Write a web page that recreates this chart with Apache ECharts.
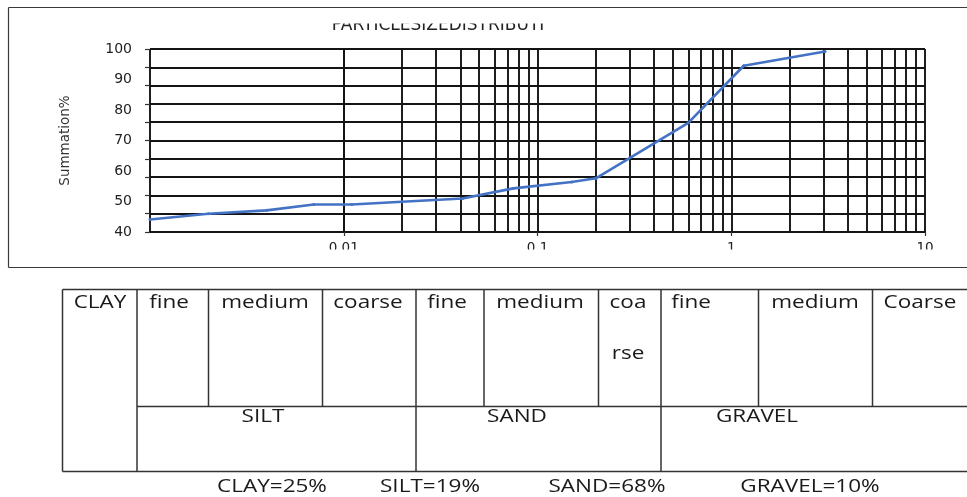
<!DOCTYPE html>
<html>
<head>
<meta charset="utf-8">
<script src="https://cdn.jsdelivr.net/npm/echarts@6/dist/echarts.min.js"></script>
<style>
  html, body { margin: 0; padding: 0; background: #ffffff; }
  #chart { width: 967px; height: 497px; }
</style>
</head>
<body>
<div id="chart"></div>
<script>
// Grain size (mm) and cumulative percentage passing
const grainSize = [0.001, 0.002, 0.004, 0.007, 0.011, 0.02, 0.041, 0.075, 0.15, 0.2, 0.6, 1.16, 3.05];
const percentPassing = [44.1, 46.0, 47.1, 49.0, 49.0, 49.9, 51.0, 54.3, 56.4, 57.6, 75.8, 94.5, 99.2];

// Axis ticks
const xDecades = [0.001, 0.01, 0.1, 1, 10];
const yTicks = [40, 50, 60, 70, 80, 90, 100];
const gridRowStep = 6;

// Soil classification table
const classNames = ['CLAY', 'SILT', 'SAND', 'GRAVEL'];
const classPercent = [25, 19, 68, 10];
const subClasses = ['fine', 'medium', 'coarse', 'fine', 'medium', 'coa\nrse', 'fine', 'medium', 'Coarse'];

const titleText = 'PARTICLESIZEDISTRIBUTI';
const yName = 'Summation%';

// intermediate log gridlines: 2..9 within each decade
const minorGrid = [];
xDecades.slice(0, -1).forEach(d => {
  for (let m = 2; m <= 9; m++) minorGrid.push(+(d * m).toPrecision(3));
});

const gridColor = '#141414';
const gridWidth = 1.9;

// ---- table layout ----
const tTop = 289.5, tMid = 406.5, tBot = 471.5, tLeft = 62.5, tRight = 967;
const fullCols = [62.5, 137, 416, 661];
const upperCols = [208.5, 322.5, 484, 598.5, 758.5, 872.5];
const subCenters = [169, 265, 368, 447, 540, 628, 691, 815, 920];
const classCellPos = [[100, 302.5], [263, 417], [517, 417], [757, 417]];
const summaryX = [272, 430, 607, 810];
const summaryY = 487;

const tableFont = '18px "Open Sans"';
const textColor = '#1a1a1a';
const stretch = 1.25;

function line(x1, y1, x2, y2, color, w) {
  return {
    type: 'line', z: 50, silent: true,
    shape: { x1, y1, x2, y2 },
    style: { stroke: color, lineWidth: w }
  };
}
function label(text, x, y, extra) {
  return Object.assign({
    type: 'text', z: 60, silent: true, x, y, scaleX: stretch,
    style: {
      text, fill: textColor, font: tableFont,
      align: 'center', verticalAlign: 'middle',
      textAlign: 'center', textVerticalAlign: 'middle'
    }
  }, extra || {});
}

const graphics = [];
// frame around the chart area
graphics.push(line(8.5, 7.5, 967, 7.5, '#3a3a3a', 1.2));
graphics.push(line(8.5, 7.5, 8.5, 267.5, '#3a3a3a', 1.2));
graphics.push(line(8.5, 267.5, 967, 267.5, '#3a3a3a', 1.2));

// title (upper part of the glyphs hidden by a white band)
graphics.push({
  type: 'text', z: 40, silent: true, x: 438, y: 25.5,
  style: {
    text: titleText, fill: '#222', font: '17px "DejaVu Sans"',
    align: 'center', verticalAlign: 'middle', textAlign: 'center', textVerticalAlign: 'middle'
  }
});
graphics.push({ type: 'rect', z: 45, silent: true, shape: { x: 300, y: 9, width: 290, height: 14.5 }, style: { fill: '#ffffff' } });
// lower band under the x tick labels
graphics.push({ type: 'rect', z: 45, silent: true, shape: { x: 300, y: 249.5, width: 667, height: 16.5 }, style: { fill: '#ffffff' } });

// table grid
graphics.push(line(tLeft, tTop, tRight, tTop, '#333', 1.5));
graphics.push(line(tLeft, tBot, tRight, tBot, '#333', 1.5));
graphics.push(line(fullCols[1], tMid, tRight, tMid, '#333', 1.5));
fullCols.forEach(x => graphics.push(line(x, tTop, x, tBot, '#333', 1.5)));
upperCols.forEach(x => graphics.push(line(x, tTop, x, tMid, '#333', 1.5)));

// table text
subClasses.forEach((s, i) => {
  if (s.indexOf('\n') >= 0) {
    // narrow column: the word wraps onto a second line
    graphics.push(label(s, subCenters[i], 277.5, {
      style: {
        text: s, fill: textColor, font: tableFont, lineHeight: 51,
        align: 'center', verticalAlign: 'top', textAlign: 'center', textVerticalAlign: 'top'
      }
    }));
  } else {
    graphics.push(label(s, subCenters[i], 302.5));
  }
});
classNames.forEach((n, i) => graphics.push(label(n, classCellPos[i][0], classCellPos[i][1])));
classNames.forEach((n, i) => graphics.push(label(n + '=' + classPercent[i] + '%', summaryX[i], summaryY)));

const chart = echarts.init(document.getElementById('chart'), null, { renderer: 'canvas' });
chart.setOption({
  animation: false,
  backgroundColor: '#ffffff',
  grid: { left: 150, right: 42, top: 49, bottom: 265, containLabel: false },
  xAxis: {
    type: 'log', logBase: 10,
    min: xDecades[0], max: xDecades[xDecades.length - 1],
    axisLine: { show: true, lineStyle: { color: gridColor, width: gridWidth } },
    axisTick: { show: true, length: 4, lineStyle: { color: '#333', width: 1.2 } },
    axisLabel: {
      showMinLabel: false, margin: 9,
      color: '#222', fontFamily: 'DejaVu Sans', fontSize: 13.5,
      formatter: v => String(+v.toPrecision(3))
    },
    splitLine: { show: true, lineStyle: { color: gridColor, width: gridWidth } }
  },
  yAxis: [
    {
      type: 'value', position: 'left',
      min: yTicks[0], max: yTicks[yTicks.length - 1], interval: yTicks[1] - yTicks[0],
      name: yName, nameLocation: 'middle', nameGap: 78, nameRotate: 90,
      nameTextStyle: { color: '#333', fontFamily: 'DejaVu Sans', fontSize: 13.5 },
      axisLine: { show: false }, axisTick: { show: false }, splitLine: { show: false },
      axisLabel: { margin: 18, color: '#222', fontFamily: 'DejaVu Sans', fontSize: 14 }
    },
    {
      type: 'value', position: 'left',
      min: yTicks[0], max: yTicks[yTicks.length - 1], interval: gridRowStep,
      axisLine: { show: false },
      axisLabel: { show: false },
      axisTick: { show: true, length: 5, lineStyle: { color: '#333', width: 1.2 } },
      splitLine: { show: true, lineStyle: { color: gridColor, width: gridWidth } }
    }
  ],
  series: [
    {
      // intermediate vertical gridlines of the log scale
      type: 'line', data: [], z: 1, silent: true,
      markLine: {
        silent: true, symbol: 'none', animation: false,
        label: { show: false },
        lineStyle: { color: gridColor, width: gridWidth, type: 'solid' },
        emphasis: { disabled: true },
        data: minorGrid.map(v => ({ xAxis: v }))
      }
    },
    {
      name: yName, type: 'line', z: 5,
      data: grainSize.map((s, i) => [s, percentPassing[i]]),
      symbol: 'circle', symbolSize: 3, showSymbol: true,
      lineStyle: { color: '#4472C4', width: 2.6 },
      itemStyle: { color: '#4472C4' }
    }
  ],
  graphic: graphics
});
</script>
</body>
</html>
